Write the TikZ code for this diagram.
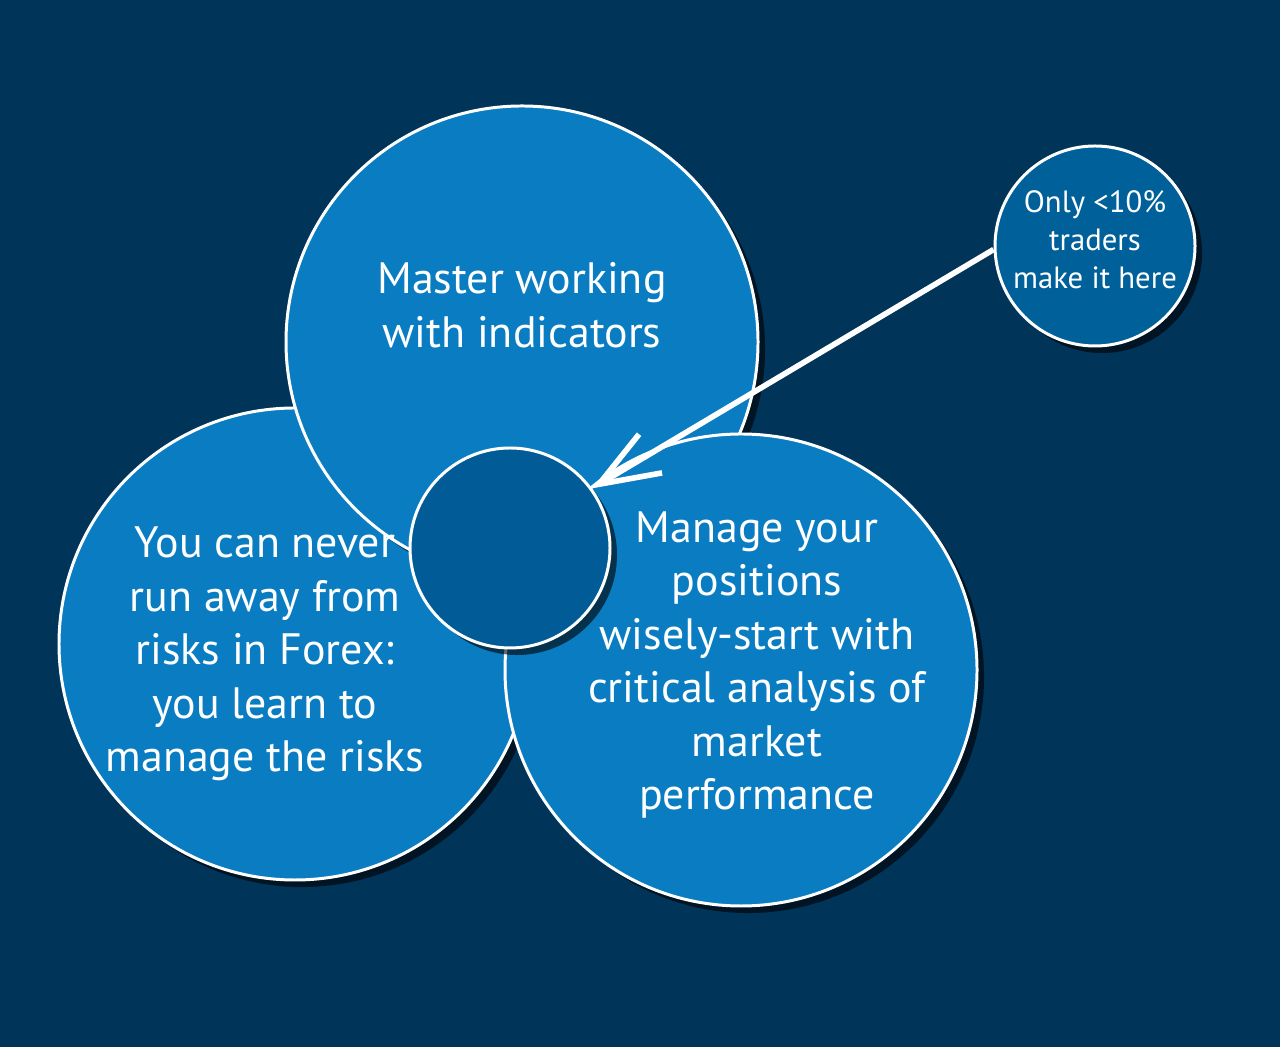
\documentclass[tikz,border=0pt]{standalone}
\usepackage{fontspec}
\setmainfont{PT Sans}
\usepackage{xcolor}
\usepackage{tikz}
\usetikzlibrary{arrows.meta, shadows}
\definecolor{navybg}{HTML}{003459}
\definecolor{bubble}{HTML}{0A7DC2}
\definecolor{hubblue}{HTML}{005B96}
\definecolor{smallblue}{HTML}{00609A}
\setlength{\unitlength}{0.02cm}
\tikzstyle{bigc} = [circle, draw=white, line width=1.7pt, fill=bubble, minimum size=472\unitlength, inner sep=0pt, drop shadow={fill=black, opacity=0.6, shadow xshift=4pt, shadow yshift=-4pt}]
\tikzstyle{smallc} = [circle, draw=white, line width=1.7pt, minimum size=200\unitlength, inner sep=0pt, drop shadow={fill=black, opacity=0.6, shadow xshift=4pt, shadow yshift=-4pt}]
\tikzstyle{txt} = [text=white, align=center, font=\fontsize{25}{30.5}\selectfont]
\tikzstyle{stxt} = [text=white, align=center, font=\fontsize{17.5}{21.6}\selectfont]
\tikzstyle{arr} = [-{Straight Barb[length=12mm, width=9mm]}, line width=3.2pt, white]

\begin{document}
\begin{tikzpicture}[x=0.02cm, y=0.02cm]
  % ---------- background ----------
  \fill[navybg] (0,0) rectangle (1280,1047);
  \useasboundingbox (0,0) rectangle (1280,1047);
  % ---------- three big circles (left under top under right) ----------
  \node[bigc] (risk)   at (295, 403) {};
  \node[bigc] (master) at (522, 705) {};
  \node[bigc] (manage) at (741, 377) {};
  % ---------- hub and the small bubble ----------
  \node[smallc, fill=hubblue]   (hub)  at (510, 499) {};
  \node[smallc, fill=smallblue] (only) at (1095, 801) {};
  % ---------- texts ----------
  \node[txt] (tmaster) at (522, 742) {Master working\\with indicators};
  \node[txt] (trisk)   at (265, 393) {You can never\\run away from\\risks in Forex:\\you learn to\\manage the risks};
  \node[txt] (tmanage) at (757, 382) {Manage your\\positions\\wisely-start with\\critical analysis of\\market\\performance};
  \node[stxt] (tonly)  at (1095, 807) {Only <10\%\\traders\\make it here};
  % ---------- pointer ----------
  \draw[arr] (only.182) -- (hub.36);
\end{tikzpicture}
\end{document}
